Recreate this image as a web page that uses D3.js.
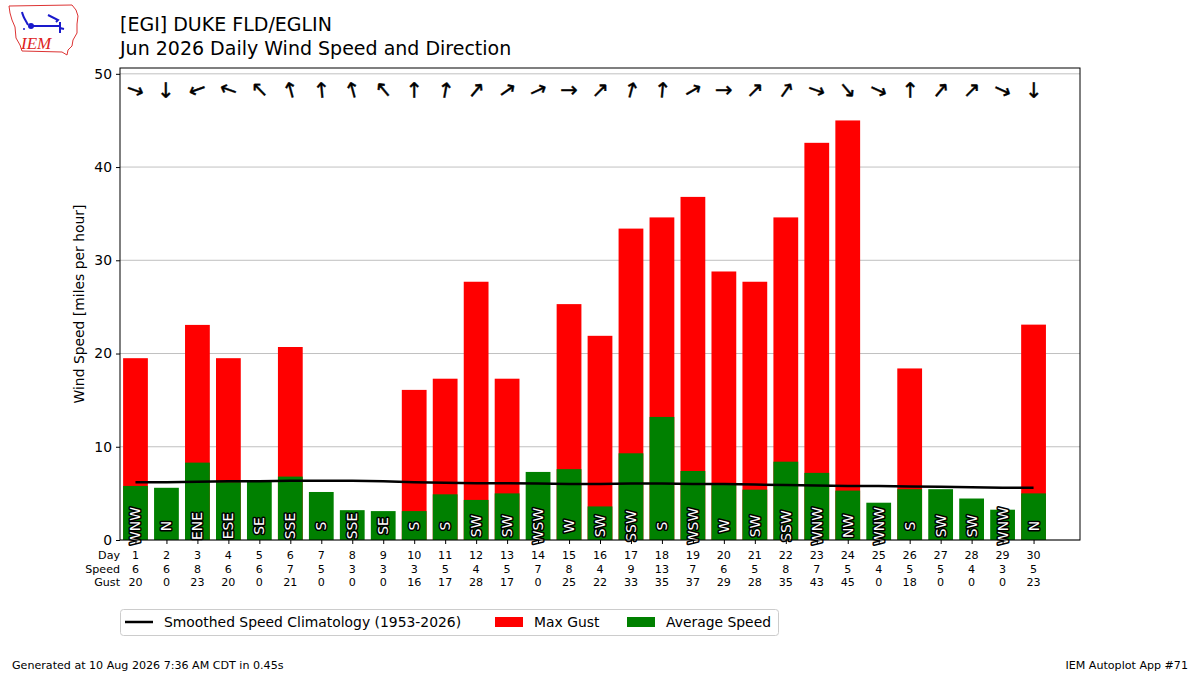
<!DOCTYPE html>
<html><head><meta charset="utf-8">
<script src="https://cdn.jsdelivr.net/npm/d3@7/dist/d3.min.js"></script>
<style>body{margin:0;background:#fff;}svg{display:block;font-family:"DejaVu Sans",sans-serif;}</style>
</head><body>
<svg id="c" width="1200" height="675"></svg>
<script>
const days = [1,2,3,4,5,6,7,8,9,10,11,12,13,14,15,16,17,18,19,20,21,22,23,24,25,26,27,28,29,30];
const avgSpeed = [5.8,5.6,8.3,6.2,6.3,6.8,5.15,3.2,3.1,3.1,4.9,4.3,5.0,7.3,7.6,3.6,9.3,13.2,7.4,6.0,5.4,8.4,7.2,5.3,4.0,5.45,5.45,4.45,3.25,5.0];
const maxGust = [19.5,0,23.07,19.5,0,20.7,0,0,0,16.1,17.3,27.7,17.3,0,25.3,21.9,33.4,34.6,36.8,28.8,27.7,34.6,42.6,45.0,0,18.4,0,0,0,23.1];
const dirLabels = ["WNW","N","ENE","ESE","SE","SSE","S","SSE","SE","S","S","SW","SW","WSW","W","SW","SSW","S","WSW","W","SW","SSW","WNW","NW","WNW","S","SW","SW","WNW","N"];
const dirDegrees = [290,0,70,110,135,165,175,165,140,180,190,220,235,245,270,225,195,185,240,270,225,215,290,320,295,180,220,225,295,0];
const climo = [6.2,6.2,6.25,6.3,6.3,6.35,6.35,6.35,6.3,6.2,6.15,6.1,6.1,6.05,6.0,6.0,6.05,6.05,6.0,6.0,5.95,5.9,5.85,5.8,5.8,5.75,5.7,5.65,5.6,5.6];
const speedLabels = ["6","6","8","6","6","7","5","3","3","3","5","4","5","7","8","4","9","13","7","6","5","8","7","5","4","5","5","4","3","5"];
const gustLabels = ["20","0","23","20","0","21","0","0","0","16","17","28","17","0","25","22","33","35","37","29","28","35","43","45","0","18","0","0","0","23"];
const yTicks = [0,10,20,30,40,50];
const rowLabels = ["Day","Speed","Gust"];

const svg = d3.select("#c");
const L=120, R=1080, T=68, B=540;
const x = d3.scaleLinear().domain([0.5,31.5]).range([L,R]);
const y = d3.scaleLinear().domain([0, d3.max(maxGust)*1.125]).range([B,T]);
const bw = x(0.8)-x(0);

// logo
const logo = svg.append("g");
logo.append("path").attr("d","M9,6 L72,5 L76,10 L78,16 L77,24 L77,33 L73,40 L72,46 L68,50 L67,55 L62,52 L22,51 L20,45 L16,38 L15,27 L12,20 L10,13 Z")
  .attr("fill","none").attr("stroke","#d33").attr("stroke-width",1);
logo.append("path").attr("d","M22,12 C23,17 26,21 28,25 M30,26 L60,26 M48,15 L58,20 L56,22 M60,22 L60,33 M60,28 L64,29")
  .attr("fill","none").attr("stroke","#1a1acc").attr("stroke-width",2);
logo.append("circle").attr("cx",31).attr("cy",26).attr("r",3).attr("fill","#1a1acc");
logo.append("circle").attr("cx",24).attr("cy",29).attr("r",1).attr("fill","#1a1acc");
logo.append("text").attr("x",21).attr("y",49).attr("font-family","Liberation Serif,serif").attr("font-style","italic")
  .attr("font-size",17).attr("fill","#d22").text("IEM");

// titles
svg.append("text").attr("x",120).attr("y",31).attr("font-size",19).text("[EGI] DUKE FLD/EGLIN");
svg.append("text").attr("x",120).attr("y",55).attr("font-size",19).text("Jun 2026 Daily Wind Speed and Direction");

// grid
svg.append("g").selectAll("line").data(yTicks).join("line")
  .attr("x1",L).attr("x2",R).attr("y1",d=>y(d)).attr("y2",d=>y(d))
  .attr("stroke","#b0b0b0").attr("stroke-width",0.8);

// bars
svg.append("g").selectAll("rect").data(days).join("rect")
  .attr("x",(d)=>x(d)-bw/2).attr("width",bw)
  .attr("y",(d,i)=>y(maxGust[i])).attr("height",(d,i)=>y(0)-y(maxGust[i]))
  .attr("fill","#ff0000");
svg.append("g").selectAll("rect").data(days).join("rect")
  .attr("x",(d)=>x(d)-bw/2).attr("width",bw)
  .attr("y",(d,i)=>y(avgSpeed[i])).attr("height",(d,i)=>y(0)-y(avgSpeed[i]))
  .attr("fill","#008000");

// climatology line
svg.append("path").datum(days).attr("fill","none").attr("stroke","#000").attr("stroke-width",2.5)
  .attr("d",d3.line().x(d=>x(d)).y((d,i)=>y(climo[i])));

// direction labels
svg.append("g").selectAll("text").data(days).join("text")
  .attr("transform",(d)=>`translate(${x(d)},${y(1.5)}) rotate(-90)`)
  .attr("text-anchor","middle").attr("dominant-baseline","central")
  .attr("font-size",13.9).attr("fill","#fff").attr("stroke","#000").attr("stroke-width",3)
  .attr("paint-order","stroke").attr("stroke-linejoin","round")
  .text((d,i)=>dirLabels[i]);

// arrows
svg.append("g").selectAll("text").data(days).join("text")
  .attr("transform",(d,i)=>`translate(${x(d)},${90}) rotate(${(dirDegrees[i]+180)%360-90})`)
  .attr("text-anchor","middle").attr("dominant-baseline","central")
  .attr("font-size",21).attr("fill","#000").attr("stroke","#000").attr("stroke-width",0.4).text("\u2192");

// frame
svg.append("rect").attr("x",L).attr("y",T).attr("width",R-L).attr("height",B-T)
  .attr("fill","none").attr("stroke","#000").attr("stroke-width",1);

// y axis
const yAxis = svg.append("g").attr("transform",`translate(${L},0)`)
  .call(d3.axisLeft(y).tickValues(yTicks).tickSize(4).tickPadding(4));
yAxis.select(".domain").remove();
yAxis.selectAll("text").attr("font-size",13.9).attr("font-family","DejaVu Sans");
svg.append("text").attr("transform",`translate(84,${(T+B)/2}) rotate(-90)`).attr("text-anchor","middle")
  .attr("font-size",13.9).text("Wind Speed [miles per hour]");

// x axis with multi-row labels
const xAxis = svg.append("g").attr("transform",`translate(0,${B})`)
  .call(d3.axisBottom(x).tickValues(days).tickSize(4).tickFormat(""));
xAxis.select(".domain").remove();
const rows = [days.map(String), speedLabels, gustLabels];
rows.forEach((r,k)=>{
  svg.append("g").selectAll("text").data(days).join("text")
    .attr("x",d=>x(d)).attr("y",559+k*13.6).attr("text-anchor","middle").attr("font-size",11.1)
    .text((d,i)=>r[i]);
  svg.append("text").attr("x",L).attr("y",559+k*13.6).attr("text-anchor","end").attr("font-size",11.1).text(rowLabels[k]);
});

// legend
const lg = svg.append("g");
lg.append("rect").attr("x",120.5).attr("y",609.5).attr("width",658).attr("height",26).attr("rx",3)
  .attr("fill","#fff").attr("stroke","#ccc");
lg.append("line").attr("x1",125).attr("x2",153).attr("y1",622).attr("y2",622).attr("stroke","#000").attr("stroke-width",2.5);
lg.append("text").attr("x",164).attr("y",627).attr("font-size",13.9).text("Smoothed Speed Climatology (1953-2026)");
lg.append("rect").attr("x",495).attr("y",617).attr("width",28).attr("height",10).attr("fill","#ff0000");
lg.append("text").attr("x",534).attr("y",627).attr("font-size",13.9).text("Max Gust");
lg.append("rect").attr("x",627).attr("y",617).attr("width",28).attr("height",10).attr("fill","#008000");
lg.append("text").attr("x",666).attr("y",627).attr("font-size",13.9).text("Average Speed");

// footer
svg.append("text").attr("x",12).attr("y",669).attr("font-size",11.1).text("Generated at 10 Aug 2026 7:36 AM CDT in 0.45s");
svg.append("text").attr("x",1188).attr("y",669).attr("text-anchor","end").attr("font-size",11.1).text("IEM Autoplot App #71");
</script>
</body></html>
